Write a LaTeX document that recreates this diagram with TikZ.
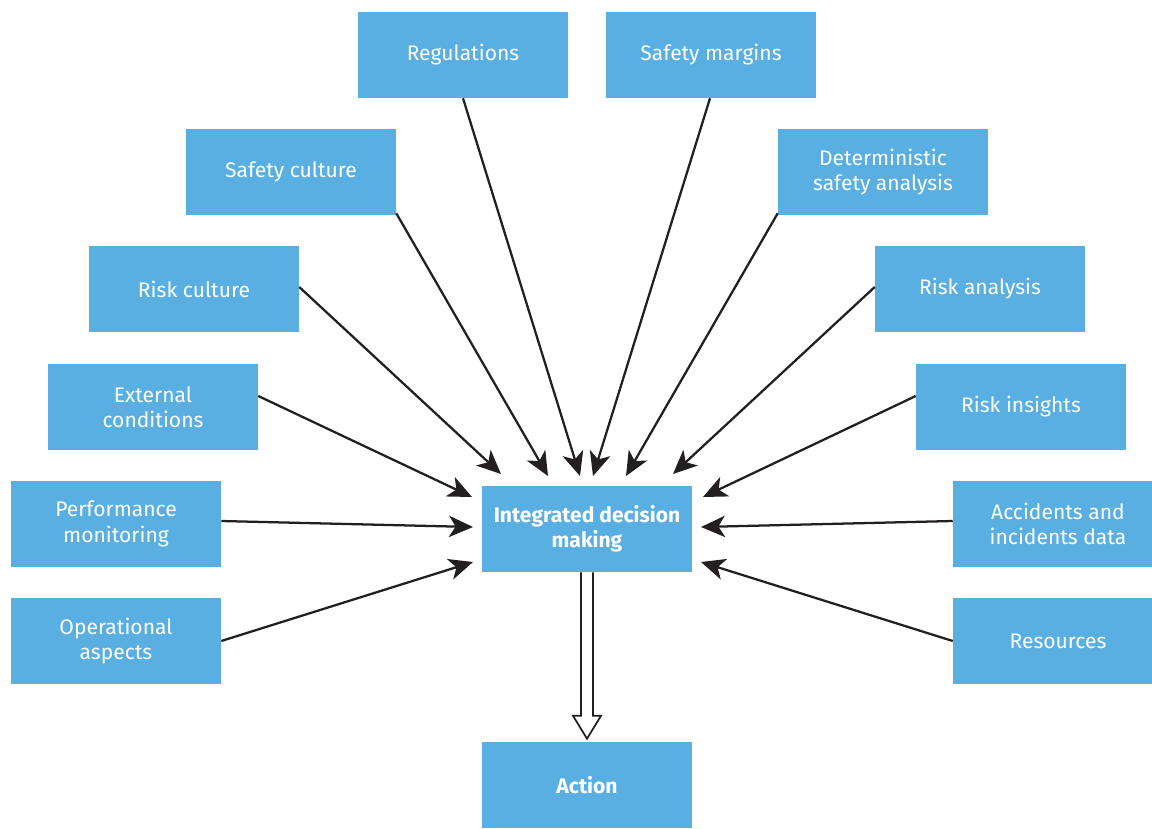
\documentclass[tikz,border=0pt]{standalone}
\usepackage{fontspec}
\setmainfont{Fira Sans}
\usetikzlibrary{arrows.meta,calc}
\definecolor{boxblue}{RGB}{90,175,226}
\definecolor{ink}{RGB}{35,31,32}
\begin{document}
\begin{tikzpicture}[x=0.75pt,y=-0.75pt,
  box/.style={fill=boxblue,text=white,minimum width=157.5pt,minimum height=64.5pt,
    inner sep=2pt,align=center,font=\fontsize{15.8}{19}\selectfont},
  boldbox/.style={box,font=\fontsize{15.8}{19}\selectfont\bfseries},
  feed/.style={draw=ink,line width=1.7pt,-{Stealth[length=18pt,width=16pt,inset=5pt]}}]
\clip (0,0) rectangle (1152,828);
\node[box] (reg) at (463,55) {Regulations};
\node[box] (sm) at (711,55) {Safety margins};
\node[box] (sc) at (291,172) {Safety culture};
\node[box] (dsa) at (883,172) {Deterministic\\safety analysis};
\node[box] (rc) at (194,289) {Risk culture};
\node[box] (ra) at (980,289) {Risk analysis};
\node[box] (ec) at (153,407) {External\\conditions};
\node[box] (ri) at (1021,407) {Risk insights};
\node[box] (pm) at (116,524) {Performance\\monitoring};
\node[box] (aid) at (1058,524) {Accidents and\\incidents data};
\node[box] (oa) at (116,641) {Operational\\aspects};
\node[box] (res) at (1058,641) {Resources};
\node[boldbox] (idm) at (587,529) {Integrated decision\\making};
\node[boldbox] (act) at (587,785) {Action};

\coordinate (t1) at (580,476);
\coordinate (t2) at (593,476);
\coordinate (t3) at (548,476);
\coordinate (t4) at (626,476);
\coordinate (t5) at (501,474);
\coordinate (t6) at (673,474);
\coordinate (t7) at (472,497);
\coordinate (t8) at (703,497);
\coordinate (t9) at (473,527);
\coordinate (t10) at (701,527);
\coordinate (t11) at (473,562);
\coordinate (t12) at (701,562);

\draw[feed] (reg.south) -- (t1);
\draw[feed] ($(sm.south)+(-1,0)$) -- (t2);
\draw[feed] ($(sc.south east)+(0,-2)$) -- (t3);
\draw[feed] ($(dsa.south west)+(0,-2)$) -- (t4);
\draw[feed] ($(rc.east)+(0,-2)$) -- (t5);
\draw[feed] ($(ra.west)+(0,-2)$) -- (t6);
\draw[feed] ($(ec.east)+(0,-11)$) -- (t7);
\draw[feed] ($(ri.west)+(0,-11)$) -- (t8);
\draw[feed] ($(pm.east)+(0,-3)$) -- (t9);
\draw[feed] ($(aid.west)+(0,-3)$) -- (t10);
\draw[feed] (oa.east) -- (t11);
\draw[feed] (res.west) -- (t12);

\draw[ink,line width=1.3pt,line join=miter,fill=white]
  ($(idm.south)+(-6,0)$) -- ($(act.north)+(-6,-26)$) -- ($(act.north)+(-14,-26)$)
  -- ($(act.north)+(0,-3)$) -- ($(act.north)+(14,-26)$) -- ($(act.north)+(6,-26)$)
  -- ($(idm.south)+(6,0)$);
\end{tikzpicture}
\end{document}
